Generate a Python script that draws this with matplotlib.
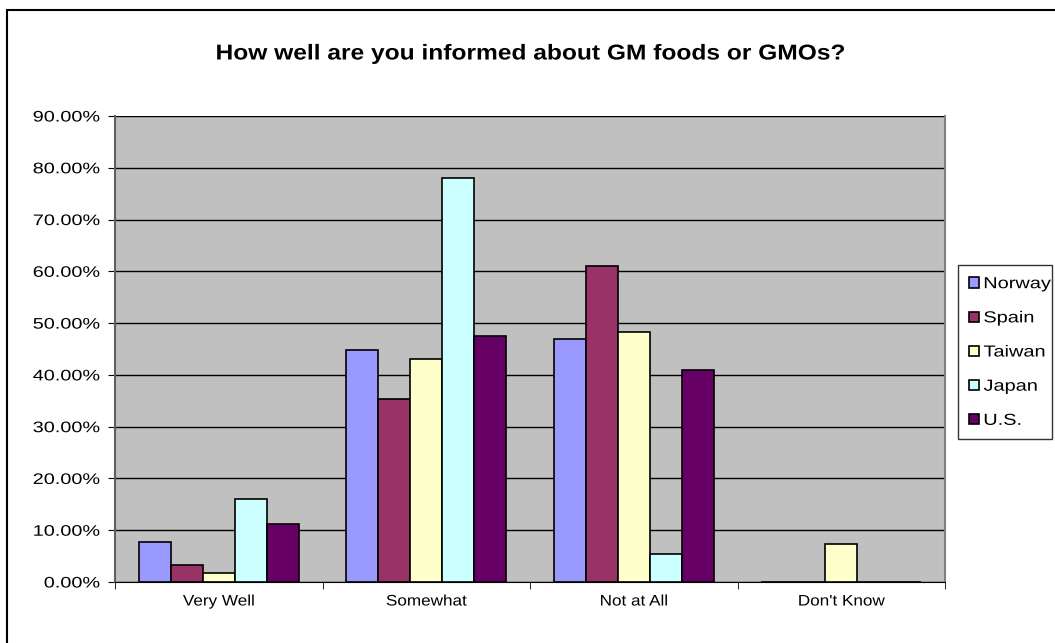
import numpy as np
import matplotlib
matplotlib.use("Agg")
from matplotlib import pyplot as plt
from matplotlib.patches import Rectangle
from matplotlib.patheffects import AbstractPathEffect
from matplotlib.transforms import Affine2D
from matplotlib.ticker import PercentFormatter, FixedLocator

plt.rcParams['font.family'] = ['Liberation Sans', 'DejaVu Sans']

categories = ["Very Well", "Somewhat", "Not at All", "Don't Know"]
countries = ["Norway", "Spain", "Taiwan", "Japan", "U.S."]
norway = [7.8, 44.8, 46.9, 0.0]
spain = [3.3, 35.4, 61.0, 0.0]
taiwan = [1.8, 43.0, 48.2, 7.3]
japan = [16.1, 78.1, 5.4, 0.0]
us = [11.2, 47.6, 40.9, 0.0]
colors = ["#9999FF", "#993366", "#FFFFCC", "#CCFFFF", "#660066"]

series = [norway, spain, taiwan, japan, us]


class Stretch(AbstractPathEffect):
    # widen text horizontally around one edge (the source chart was stretched)
    def __init__(self, sx, anchor="center"):
        super().__init__()
        self.sx = sx
        self.anchor = anchor

    def draw_path(self, renderer, gc, tpath, affine, rgbFace=None):
        ext = tpath.get_extents(affine)
        if self.anchor == "right":
            cx = ext.x1
        elif self.anchor == "left":
            cx = ext.x0
        else:
            cx = (ext.x0 + ext.x1) / 2
        t = affine + Affine2D().translate(-cx, 0).scale(self.sx, 1).translate(cx, 0)
        renderer.draw_path(gc, tpath, t, rgbFace)


fig = plt.figure(figsize=(10.55, 6.43), dpi=100)
# outer chart border (right/bottom edges fall outside the picture)
fig.patches.append(Rectangle((7 / 1055, -5 / 643), 1060 / 1055, 638 / 643,
                             transform=fig.transFigure, fill=False,
                             edgecolor="black", linewidth=1.5))

ax = fig.add_axes([115 / 1055, 61 / 643, 830 / 1055, 466 / 643])
ax.set_facecolor("#C0C0C0")

x = np.arange(len(categories))
bw = 1 / 6.5
for i, (vals, c, name) in enumerate(zip(series, colors, countries)):
    ax.bar(x + (i - 2) * bw, vals, width=bw, color=c, edgecolor="black",
           linewidth=1.2, label=name, zorder=3)

ax.set_xlim(-0.5, len(categories) - 0.5)
ax.set_ylim(0, 90)
ax.set_yticks(np.arange(0, 91, 10))
ax.yaxis.set_major_formatter(PercentFormatter(decimals=2))
ax.grid(axis="y", color="black", linewidth=1, zorder=1)
ax.set_axisbelow(True)

ax.set_xticks(x)
ax.set_xticklabels(categories)
ax.tick_params(axis="x", length=0, pad=9, labelsize=11)
ax.xaxis.set_minor_locator(FixedLocator(np.arange(-0.5, len(categories), 1)))
ax.tick_params(axis="x", which="minor", length=5, color="black")
ax.tick_params(axis="y", length=5, labelsize=11, pad=6, color="black")

ax.spines["top"].set_visible(False)
ax.spines["right"].set_color("#808080")
ax.spines["right"].set_linewidth(1.5)
ax.spines["left"].set_color("#606060")
ax.spines["left"].set_linewidth(1.5)
ax.spines["bottom"].set_color("black")

for t in ax.get_yticklabels():
    t.set_path_effects([Stretch(1.3, "right")])
for t in ax.get_xticklabels():
    t.set_path_effects([Stretch(1.12)])

title = fig.text(0.503, 1 - 54 / 643, "How well are you informed about GM foods or GMOs?",
                 ha="center", va="center", fontsize=15.5, fontweight="bold")
title.set_path_effects([Stretch(1.14)])

leg = fig.legend(loc="upper left",
                 bbox_to_anchor=(958 / 1055, 1 - 265 / 643 - 0.01, 94 / 1055, 0.01),
                 mode="expand", frameon=True, fancybox=False, fontsize=11.5,
                 handlelength=0.6, handleheight=0.6, handletextpad=0.3,
                 labelspacing=1.2, borderpad=0.7, borderaxespad=0)
leg.get_frame().set_edgecolor("black")
leg.get_frame().set_linewidth(1)
for t in leg.get_texts():
    t.set_path_effects([Stretch(1.25, "left")])

fig.savefig("out.png", dpi=100)
